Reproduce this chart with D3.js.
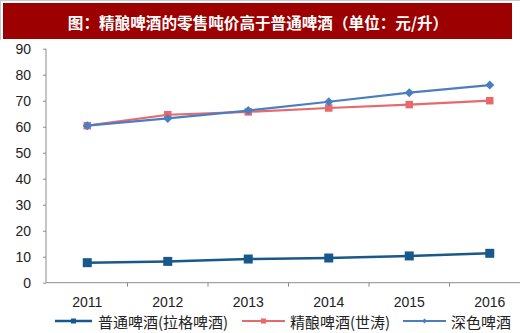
<!DOCTYPE html>
<html><head><meta charset="utf-8">
<script src="https://cdn.jsdelivr.net/npm/d3@7"></script>
<style>body{margin:0;background:#fff}</style>
</head><body><svg id="c" width="520" height="333"></svg>
<script>
const title = "图：精酿啤酒的零售吨价高于普通啤酒（单位：元/升）";
const years = ["2011","2012","2013","2014","2015","2016"];
const lagerValues = [7.7, 8.2, 9.1, 9.5, 10.3, 11.3];
const craftValues = [60.4, 64.6, 65.7, 67.2, 68.5, 70.0];
const darkValues = [60.4, 63.2, 66.2, 69.6, 73.1, 76.0];
const seriesNames = ["普通啤酒(拉格啤酒)", "精酿啤酒(世涛)", "深色啤酒"];
const yTicks = [0,10,20,30,40,50,60,70,80,90];

const series = [
  {name: seriesNames[0], values: lagerValues, color: "#19588A", width: 2.5, marker: "square", size: 9, lsize: 5},
  {name: seriesNames[1], values: craftValues, color: "#E7696C", width: 2.2, marker: "square", size: 7.5, lsize: 5},
  {name: seriesNames[2], values: darkValues, color: "#4A7EC0", width: 2.2, marker: "diamond", size: 9, lsize: 5}
];

const svg = d3.select("#c");
const font = "'Liberation Sans', Arial, sans-serif";
const cjk = "'Noto Sans CJK SC', 'Liberation Sans', sans-serif";

// frame lines
svg.append("line").attr("x1",0).attr("x2",520).attr("y1",0.5).attr("y2",0.5).attr("stroke","#c8c8c8");
svg.append("line").attr("x1",0.5).attr("x2",0.5).attr("y1",0).attr("y2",40).attr("stroke","#c8c8c8");

// title bar
svg.append("rect").attr("x",3).attr("y",3).attr("width",509).attr("height",36).attr("fill","#9C0000");
svg.append("text").attr("x",258).attr("y",22).attr("text-anchor","middle").attr("dominant-baseline","central")
  .attr("fill","#fff").attr("font-family",cjk).attr("font-weight","bold").attr("font-size",15.6).text(title);

const x = d3.scaleBand().domain(years).range([47,530]).paddingInner(0).paddingOuter(0);
const y = d3.scaleLinear().domain([0,90]).range([282.7,48.7]);

// y axis
const yAxis = svg.append("g").attr("transform","translate(46,0)")
  .call(d3.axisLeft(y).tickValues(yTicks).tickSize(3).tickPadding(12));
yAxis.select(".domain").attr("stroke","#8c8c8c").attr("d", `M0,${y(0)}V${y(90)}`);
yAxis.selectAll(".tick line").attr("stroke","#8c8c8c");
yAxis.selectAll(".tick text").attr("font-family",font).attr("font-size",14).attr("fill","#222");

// x axis
const xg = svg.append("g").attr("transform",`translate(0,${y(0)})`);
xg.append("line").attr("x1",46).attr("x2",520).attr("y1",0).attr("y2",0).attr("stroke","#8c8c8c");
xg.selectAll("line.t").data(years).join("line").attr("class","t")
  .attr("x1",d=>x(d)+x.bandwidth()).attr("x2",d=>x(d)+x.bandwidth()).attr("y1",0).attr("y2",4).attr("stroke","#8c8c8c");
xg.selectAll("text").data(years).join("text")
  .attr("x",d=>x(d)+x.bandwidth()/2).attr("y",19).attr("dominant-baseline","central").attr("text-anchor","middle")
  .attr("font-family",font).attr("font-size",14).attr("fill","#222").text(d=>d);

function drawMarker(g, type, cx, cy, s, color){
  if(type==="square"){
    g.append("rect").attr("x",cx-s/2).attr("y",cy-s/2).attr("width",s).attr("height",s).attr("fill",color);
  } else {
    const h = s/2;
    g.append("path").attr("d",`M${cx},${cy-h}L${cx+h},${cy}L${cx},${cy+h}L${cx-h},${cy}Z`).attr("fill",color);
  }
}

const line = d3.line().x((d,i)=>x(years[i])+x.bandwidth()/2).y(d=>y(d));
series.forEach(s=>{
  const g = svg.append("g");
  g.append("path").attr("d",line(s.values)).attr("fill","none").attr("stroke",s.color).attr("stroke-width",s.width);
  s.values.forEach((v,i)=>drawMarker(g, s.marker, x(years[i])+x.bandwidth()/2, y(v), s.size, s.color));
});

// legend
const legendPos = [{x1:55,x2:92,tx:98},{x1:242,x2:285,tx:290},{x1:403,x2:446,tx:451}];
const ly = 321;
series.forEach((s,i)=>{
  const p = legendPos[i];
  const g = svg.append("g");
  g.append("line").attr("x1",p.x1).attr("x2",p.x2).attr("y1",ly).attr("y2",ly).attr("stroke",s.color).attr("stroke-width",s.width);
  drawMarker(g, s.marker, (p.x1+p.x2)/2, ly, s.lsize, s.color);
  g.append("text").attr("x",p.tx).attr("y",ly).attr("dominant-baseline","central")
    .attr("font-family",cjk).attr("font-size",15).attr("fill","#222").text(s.name);
});
</script></body></html>
